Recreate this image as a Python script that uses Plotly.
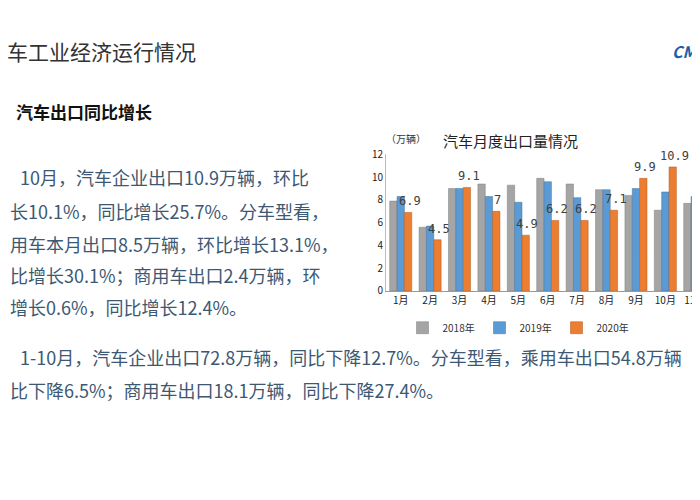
import plotly.graph_objects as go

months = ["1月","2月","3月","4月","5月","6月","7月","8月","9月","10月","11月"]
y2018 = [7.9,5.6,9.0,9.4,9.3,9.9,9.4,8.9,8.4,7.1,7.7]
y2019 = [8.3,5.7,9.0,8.3,7.8,9.6,8.2,8.9,9.0,8.7,8.3]
y2020 = [6.9,4.5,9.1,7.0,4.9,6.2,6.2,7.1,9.9,10.9,None]
labels2020 = ["6.9","4.5","9.1","7","4.9","6.2","6.2","7.1","9.9","10.9",""]

body_lines = [
    (10, 165, "10月，汽车企业出口10.9万辆，环比"),
    (0, 200, "长10.1%，同比增长25.7%。分车型看，"),
    (0, 234, "用车本月出口8.5万辆，环比增长13.1%，"),
    (0, 267, "比增长30.1%；商用车出口2.4万辆，环"),
    (0, 300, "增长0.6%，同比增长12.4%。"),
    (10, 351, "1-10月，汽车企业出口72.8万辆，同比下降12.7%。分车型看，乘用车出口54.8万辆"),
    (0, 385, "比下降6.5%；商用车出口18.1万辆，同比下降27.4%。"),
]

fig = go.Figure()
fig.add_bar(x=months, y=y2018, name="2018年", marker=dict(color="#a5a5a5", line=dict(color="#7f7f7f", width=0.5)))
fig.add_bar(x=months, y=y2019, name="2019年", marker=dict(color="#5b9bd5", line=dict(color="#41719c", width=0.5)))
fig.add_bar(x=months, y=y2020, name="2020年", marker=dict(color="#ed7d31", line=dict(color="#ae5a21", width=0.5)))

ann = []
for m, v, t in zip(months, y2020, labels2020):
    if v is None:
        continue
    ann.append(dict(x=m, y=v, xref="x", yref="y", text=t, showarrow=False, xanchor="center",
                    yanchor="bottom", xshift=9, yshift=2,
                    font=dict(size=12, color="#404040", family="DejaVu Sans Mono")))

pa = [
    (-3, 35, "车工业经济运行情况", 21, "#333333", "left"),
    (6, 98, "<b>汽车出口同比增长</b>", 17, "#111111", "left"),
    (502, 128, "汽车月度出口量情况", 15, "#222222", "center"),
    (376, 126, "（万辆）", 10, "#333333", "left"),
    (662, 35, "<b><i>CM</i></b>", 16, "#1f5fa8", "left"),
]
for x, y, t in body_lines:
    pa.append((x, y, t, 18, "#3d5873", "left"))
for x, y, t, s, c, xa in pa:
    ann.append(dict(x=x/700, y=1-y/500, xref="paper", yref="paper", text=t, showarrow=False,
                    xanchor=xa, yanchor="middle", font=dict(size=s, color=c, family="Noto Sans CJK SC")))

fig.update_layout(
    width=700, height=500, margin=dict(l=0, r=0, t=0, b=0),
    paper_bgcolor="white", plot_bgcolor="white",
    barmode="group", bargap=0.25, bargroupgap=0,
    font=dict(family="Noto Sans CJK SC", size=10, color="#333333"),
    xaxis=dict(domain=[378/700, 1], range=[-0.5, 10.45], showline=True, linecolor="#999999",
               ticks="", tickfont=dict(size=10, color="#222222")),
    yaxis=dict(domain=[(500-283)/500, (500-142)/500], range=[0, 12], dtick=2, showgrid=False,
               showline=True, linecolor="#bbbbbb", tickfont=dict(size=10, color="#222222"), ticks=""),
    legend=dict(orientation="h", x=510/700, y=(500-321)/500, xanchor="center", yanchor="middle",
                font=dict(size=10), itemwidth=30, entrywidth=32, entrywidthmode="pixels",
                traceorder="normal", tracegroupgap=0),
    annotations=ann,
)
fig.write_html("out.html")
